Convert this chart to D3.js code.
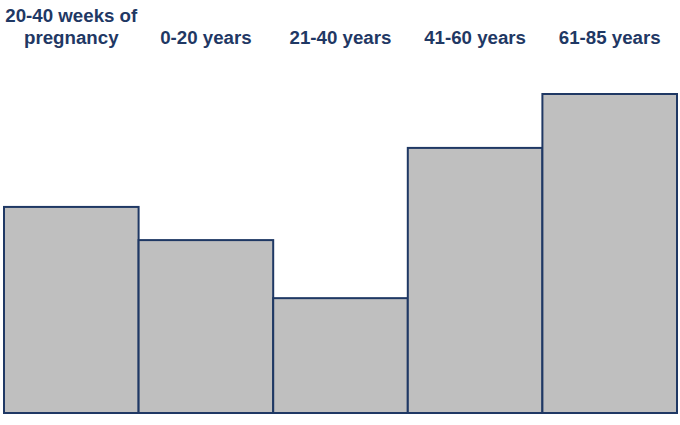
<!DOCTYPE html>
<html><head><meta charset="utf-8">
<script src="https://cdn.jsdelivr.net/npm/d3@7"></script>
<style>body{margin:0;background:#fff}</style>
</head><body>
<svg id="c" width="680" height="425"></svg>
<script>
const categories = ["20-40 weeks of pregnancy","0-20 years","21-40 years","41-60 years","61-85 years"];
const labelLines = [["20-40 weeks of","pregnancy"],["0-20 years"],["21-40 years"],["41-60 years"],["61-85 years"]];
const values = [6.46, 5.42, 3.6, 8.31, 10];

const svg = d3.select("#c");
const x = d3.scaleBand().domain(categories).range([4, 677]).padding(0);
const y = d3.scaleLinear().domain([0, 10]).range([413, 94]);
const navy = "#1f3864";

svg.selectAll("rect.bar").data(values).enter().append("rect")
  .attr("class","bar")
  .attr("x",(d,i)=>x(categories[i]))
  .attr("y",d=>y(d))
  .attr("width",x.bandwidth())
  .attr("height",d=>y(0)-y(d))
  .attr("fill","#bfbfbf")
  .attr("stroke",navy)
  .attr("stroke-width",2);

labelLines.forEach((lines,i)=>{
  const cx = x(categories[i]) + x.bandwidth()/2;
  const n = lines.length;
  lines.forEach((t,j)=>{
    svg.append("text")
      .attr("x",cx)
      .attr("y", 44 - (n-1-j)*22)
      .attr("text-anchor","middle")
      .attr("font-family","'Liberation Sans', Arial, sans-serif")
      .attr("font-weight","bold")
      .attr("font-size",18.7)
      .attr("fill",navy)
      .text(t);
  });
});
</script>
</body></html>
